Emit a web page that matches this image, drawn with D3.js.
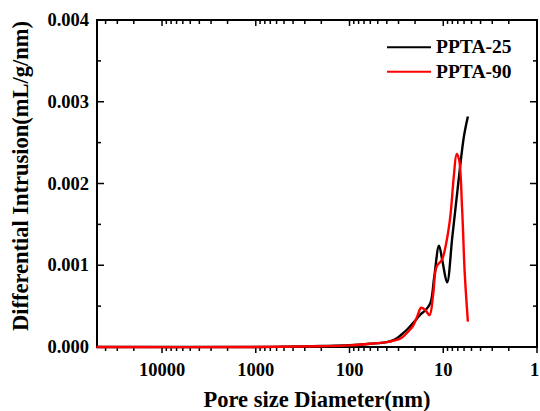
<!DOCTYPE html>
<html><head><meta charset="utf-8">
<script src="https://cdn.jsdelivr.net/npm/d3@7"></script>
<style>body{margin:0;background:#fff}svg{display:block}text{font-family:"Liberation Serif","Times New Roman",serif;font-weight:bold}</style>
</head><body><svg id="c" width="540" height="411"></svg>
<script>
const xTickLabels = ["10000","1000","100","10","1"];
const yTickLabels = ["0.000","0.001","0.002","0.003","0.004"];
const ppta25X = [50000,1000,500,200,100,60,40,33,28,24,20,17.5,15.5,13.7,12.5,11.1,10.2,9.1,8.0,7.0,6.03,5.46];
const ppta25Y = [0,0,0.000003,0.000012,0.000022,0.00004,0.00006,0.00009,0.00015,0.00022,0.00032,0.0004,0.00045,0.00054,0.00085,0.00124,0.00105,0.00079,0.00135,0.00195,0.00257,0.00282];
const ppta90X = [50000,1000,200,100,60,40,33,28,24,21,19,17.2,15.5,14.0,12.8,11.8,10.3,9.2,8.4,7.7,7.2,6.8,6.3,5.9,5.46];
const ppta90Y = [0,0,0.00001,0.00002,0.00004,0.00006,0.00008,0.00011,0.00018,0.00026,0.00037,0.00048,0.00045,0.00039,0.00065,0.00098,0.00107,0.0013,0.0016,0.0021,0.00236,0.0023,0.0017,0.0009,0.00031];
const seriesNames = ["PPTA-25","PPTA-90"];
const seriesColors = ["#000000","#ff0000"];

const svg = d3.select("#c");
const L=97, R=537, T=20, B=347;
const x = d3.scaleLog().domain([49400,1]).range([L,R]);
const y = d3.scaleLinear().domain([0,0.004]).range([B,T]);

const minor = [];
for (let e=0;e<5;e++) for (let m=1;m<10;m++){const v=m*Math.pow(10,e); if(v<=49400) minor.push(v);}
const majors = [1,10,100,1000,10000];
const g = svg.append("g");
minor.forEach(v=>{const isM=majors.includes(v);const px=x(v);
  g.append("line").attr("x1",px).attr("x2",px).attr("y1",B).attr("y2",B+(isM?6:4)).attr("stroke","#000").attr("stroke-width",1.5);
  g.append("line").attr("x1",px).attr("x2",px).attr("y1",T).attr("y2",T+(isM?6:4)).attr("stroke","#000").attr("stroke-width",1.5);
});
d3.range(0,0.00401,0.0005).forEach((v,i)=>{const py=y(v);const isM=i%2===0;const len=isM?7:4;
  g.append("line").attr("x1",L).attr("x2",L+len).attr("y1",py).attr("y2",py).attr("stroke","#000").attr("stroke-width",1.5);
  g.append("line").attr("x1",R).attr("x2",R-len).attr("y1",py).attr("y2",py).attr("stroke","#000").attr("stroke-width",1.5);
});
svg.append("rect").attr("x",L).attr("y",T).attr("width",R-L).attr("height",B-T).attr("fill","none").attr("stroke","#000").attr("stroke-width",2);

xTickLabels.forEach(t=>{const px=Math.min(x(+t),534.5);
  svg.append("text").attr("x",px).attr("y",376).attr("text-anchor","middle").attr("font-size",18.5).text(t);});
yTickLabels.forEach(t=>{svg.append("text").attr("x",89).attr("y",y(+t)+6).attr("text-anchor","end").attr("font-size",18.5).text(t);});

svg.append("text").attr("x",317).attr("y",407).attr("text-anchor","middle").attr("font-size",22.5).text("Pore size Diameter(nm)");
svg.append("text").attr("transform","translate(28,176) rotate(-90)").attr("text-anchor","middle").attr("font-size",22.5).text("Differential Intrusion(mL/g/nm)");

const line = d3.line().x(d=>x(d[0])).y(d=>y(d[1])).curve(d3.curveCatmullRom.alpha(0.5));
const data = [ppta25X.map((v,i)=>[v,ppta25Y[i]]), ppta90X.map((v,i)=>[v,ppta90Y[i]])];
svg.append("path").datum(data[0]).attr("d",line).attr("fill","none").attr("stroke",seriesColors[0]).attr("stroke-width",2.4);
svg.append("path").datum(data[1]).attr("d",line).attr("fill","none").attr("stroke",seriesColors[1]).attr("stroke-width",2.4);

seriesNames.forEach((n,i)=>{const ly=47.3+i*24.4;
  svg.append("line").attr("x1",387).attr("x2",431).attr("y1",ly).attr("y2",ly).attr("stroke",seriesColors[i]).attr("stroke-width",2);
  svg.append("text").attr("x",436).attr("y",ly+6).attr("font-size",19.5).text(n);
});
</script></body></html>
